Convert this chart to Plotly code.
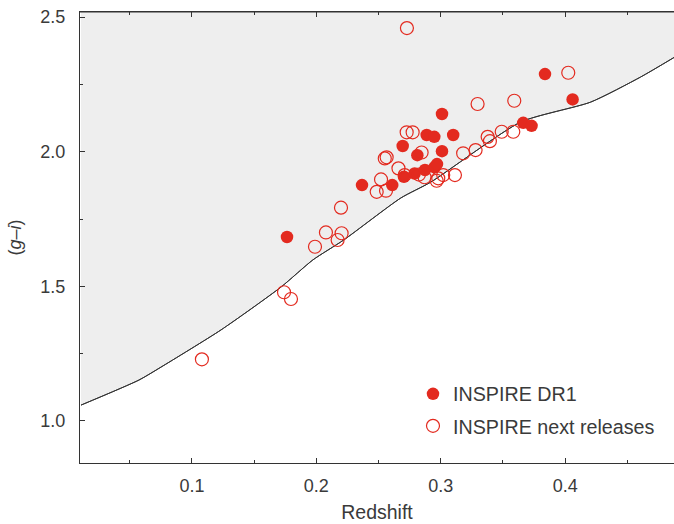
import plotly.graph_objects as go

# Boundary curve (redshift vs g-i lower envelope)
curve_z = [0.0108, 0.0574, 0.0751, 0.1233, 0.1715, 0.1972, 0.222, 0.2679, 0.292, 0.3643, 0.4205, 0.4606, 0.4880]
curve_gi = [1.059, 1.152, 1.200, 1.338, 1.497, 1.598, 1.672, 1.828, 1.887, 2.110, 2.184, 2.277, 2.351]

# INSPIRE DR1 (filled)
dr1_z = [0.1764, 0.2367, 0.261, 0.2704, 0.2694, 0.279, 0.2812, 0.2873, 0.2887, 0.2948,
         0.295, 0.297, 0.301, 0.301, 0.310, 0.3663, 0.373, 0.3838, 0.406]
dr1_gi = [1.683, 1.876, 1.876, 1.907, 2.021, 1.919, 1.987, 1.932, 2.062, 2.055,
          1.942, 1.954, 2.140, 2.002, 2.062, 2.107, 2.096, 2.288, 2.194]

# INSPIRE next releases (open)
nr_z = [0.108, 0.174, 0.1796, 0.1989, 0.2077, 0.2171, 0.2203, 0.2198, 0.2485, 0.256,
        0.252, 0.266, 0.255, 0.2565, 0.2726, 0.2774, 0.2846, 0.271, 0.287, 0.2728,
        0.4025, 0.3296, 0.3591, 0.2825, 0.298, 0.2967, 0.302, 0.3114, 0.318, 0.328,
        0.3377, 0.3395, 0.349, 0.3583]
nr_gi = [1.229, 1.478, 1.453, 1.647, 1.700, 1.672, 1.697, 1.792, 1.851, 1.855,
         1.897, 1.938, 1.975, 1.979, 2.072, 2.072, 1.997, 1.913, 1.905, 2.459,
         2.293, 2.177, 2.189, 1.915, 1.901, 1.892, 1.913, 1.913, 1.994, 2.006,
         2.055, 2.039, 2.074, 2.074]

x_range = [0.0100, 0.4875]
y_range = [0.844, 2.5186]
top_fill = [y_range[1] + 0.1] * len(curve_z)

red = "#e32a1f"
txt = "#3a3a3a"
font_family = "Liberation Sans, Arial, sans-serif"

fig = go.Figure()
fig.add_trace(go.Scatter(x=curve_z, y=curve_gi, mode="lines",
                         line=dict(color="#333333", width=1, shape="spline", smoothing=0.6),
                         showlegend=False, hoverinfo="skip"))
fig.add_trace(go.Scatter(x=curve_z, y=top_fill, mode="lines", line=dict(width=0),
                         fill="tonexty", fillcolor="#eeeeee", showlegend=False,
                         hoverinfo="skip"))
fig.add_trace(go.Scatter(x=curve_z, y=curve_gi, mode="lines",
                         line=dict(color="#333333", width=1, shape="spline", smoothing=0.6),
                         showlegend=False, hoverinfo="skip"))
fig.add_trace(go.Scatter(x=dr1_z, y=dr1_gi, mode="markers", name="INSPIRE DR1",
                         legend="legend",
                         marker=dict(symbol="circle", size=12.5, color=red,
                                     line=dict(width=0))))
fig.add_trace(go.Scatter(x=nr_z, y=nr_gi, mode="markers", name="INSPIRE next releases",
                         legend="legend2",
                         marker=dict(symbol="circle-open", size=13, color=red,
                                     line=dict(width=1.2, color=red))))

axis_common = dict(showgrid=False, zeroline=False, showline=True, linecolor="#333333",
                   linewidth=1, ticks="inside", ticklen=5, tickcolor="#333333",
                   tickfont=dict(size=18, color=txt, family=font_family))

fig.update_xaxes(range=x_range, tickvals=[0.1, 0.2, 0.3, 0.4], ticktext=["0.1", "0.2", "0.3", "0.4"],
                 mirror="allticks", ticklabelstandoff=6,
                 minor=dict(tickvals=[0.05, 0.15, 0.25, 0.35, 0.45], ticks="inside", ticklen=3,
                            tickcolor="#333333"),
                 title=dict(text="Redshift", font=dict(size=19.5, color=txt, family=font_family), standoff=10),
                 **axis_common)
fig.update_yaxes(range=y_range, tickvals=[1.0, 1.5, 2.0, 2.5], ticktext=["1.0", "1.5", "2.0", "2.5"],
                 ticklabelstandoff=10,
                 minor=dict(tickvals=[1.25, 1.75, 2.25], ticks="inside", ticklen=3,
                            tickcolor="#333333"),
                 title=dict(text="(<i>g</i>–<i>i</i>)", font=dict(size=18, color=txt, family=font_family), standoff=14),
                 **axis_common)

leg_common = dict(xanchor="left", yanchor="middle", bgcolor="rgba(0,0,0,0)",
                  font=dict(size=19.7, color=txt, family=font_family), itemwidth=30)
fig.update_layout(
    width=674, height=524,
    margin=dict(l=80, r=0, t=12, b=61),
    plot_bgcolor="white", paper_bgcolor="white",
    font=dict(family=font_family, color=txt),
    legend=dict(x=0.5606, y=0.153, **leg_common),
    legend2=dict(x=0.5606, y=0.082, **leg_common),
    shapes=[dict(type="line", xref="paper", yref="paper", x0=0, x1=1, y0=1, y1=1,
                 line=dict(color="#333333", width=1.2), layer="above")],
)

fig.write_html("out.html", config={"displayModeBar": False},
               post_script="document.body.style.margin='0';document.body.style.overflow='hidden';")
